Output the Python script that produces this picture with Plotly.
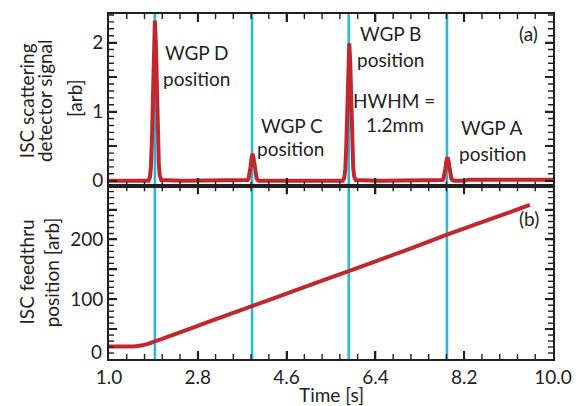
import plotly.graph_objects as go

# ---------------- data ----------------
# panel (a): ISC scattering detector signal [arb]
time_a = [1.00, 1.50, 1.80, 1.83, 1.85, 1.87, 1.89, 1.91, 1.93, 1.95, 1.97, 1.99, 2.01, 2.03, 2.06,
          2.50, 3.00, 3.50, 3.79, 3.81, 3.83, 3.85, 3.87, 3.89, 3.91, 3.93, 3.95, 3.97, 3.99, 4.01, 4.04,
          4.50, 5.00, 5.50, 5.74, 5.77, 5.79, 5.81, 5.83, 5.85, 5.87, 5.89, 5.91, 5.93, 5.95, 5.97, 6.00,
          6.50, 7.00, 7.50, 7.74, 7.76, 7.78, 7.80, 7.82, 7.84, 7.86, 7.88, 7.90, 7.92, 7.94, 7.96, 8.00,
          8.20, 8.30, 9.00, 10.00]
signal_a = [0.00, 0.00, 0.00, 0.05, 0.20, 0.58, 1.25, 1.99, 2.32, 1.99, 1.28, 0.62, 0.23, 0.07, 0.01,
            0.00, 0.00, 0.00, 0.00, 0.01, 0.03, 0.10, 0.21, 0.33, 0.39, 0.33, 0.21, 0.10, 0.04, 0.01, 0.00,
            0.00, 0.00, 0.00, 0.00, 0.04, 0.17, 0.50, 1.07, 1.71, 1.99, 1.71, 1.10, 0.53, 0.19, 0.06, 0.01,
            0.00, 0.00, 0.00, 0.00, 0.01, 0.03, 0.085, 0.18, 0.29, 0.34, 0.29, 0.18, 0.09, 0.03, 0.01, 0.00,
            0.00, 0.015, 0.015, 0.015]

# panel (b): ISC feedthru position [arb]
time_b = [1.00, 1.40, 1.55, 1.65, 1.75, 1.85, 1.93, 2.05, 2.30, 3.00, 3.90, 5.00, 5.86, 7.00, 7.85, 9.00, 9.53]
position_b = [21, 21, 21.5, 22.5, 24.5, 27, 29.5, 33, 40.5, 61.5, 88.5, 121.5, 147, 181.5, 208, 242, 258]

# WGP positions (vertical markers)
wgp_times = [1.93, 3.90, 5.86, 7.85]

# axes and ticks
x_range = [1.0, 10.0]
ya_range = [-0.082, 2.414]
yb_range = [0.0, 288.8]
x_tick0, x_dtick, x_minor, x_nminor = 1.0, 1.8, 0.36, 25
ya_dtick, ya_minor, ya_nminor = 0.5, 0.1, 24
ya_hidden = {"0.5": "", "1.5": ""}
yb_dtick, yb_minor, yb_nminor = 50, 10, 28
yb_hidden = {"0": "", "50": "", "150": "", "250": ""}
yb_zero_label = "0"

# ---------------- style ----------------
RED = "#c1272d"
CYAN = "#27b8dc"
INK = "#231f20"
FONT = "Lato"
FS = 19
SPLIT = 0.5004
MAJ_LEN, MIN_LEN = 8, 5

W, H = 584, 406
L, R, T, B = 109, 28.5, 13, 46.7
PW = W - L - R
PH = H - T - B

# pixels per data unit (for tick lengths)
X_PPU = PW / (x_range[1] - x_range[0])
YA_PPU = PH * (1 - SPLIT) / (ya_range[1] - ya_range[0])
YB_PPU = PH * SPLIT / (yb_range[1] - yb_range[0])


def px_x(px):
    return (px - L) / PW


def px_y(py):
    return (H - B - py) / PH


fig = go.Figure()

for t in wgp_times:
    fig.add_shape(type="line", xref="x", yref="paper", x0=t, x1=t, y0=0, y1=1,
                  line=dict(color=CYAN, width=2.6), layer="below")

fig.add_trace(go.Scatter(x=time_a, y=signal_a, mode="lines", xaxis="x", yaxis="y",
                         line=dict(color=RED, width=4), showlegend=False, hoverinfo="skip"))
fig.add_trace(go.Scatter(x=time_b, y=position_b, mode="lines", xaxis="x2", yaxis="y2",
                         line=dict(color=RED, width=4, shape="spline", smoothing=0.8),
                         showlegend=False, hoverinfo="skip"))


# ---- inward tick marks on all four sides of each frame ----
def frame_ticks(xa, ya, yrng, yppu, ystep, ynum):
    segs = {True: ([], []), False: ([], [])}
    # x ticks (bottom and top)
    for k in range(1, x_nminor):
        v = x_tick0 + k * x_minor
        major = k % 5 == 0
        d = (MAJ_LEN if major else MIN_LEN) / yppu
        xs, ys = segs[major]
        xs += [v, v, None, v, v, None]
        ys += [yrng[0], yrng[0] + d, None, yrng[1], yrng[1] - d, None]
    # y ticks (left and right)
    for k in range(1, ynum + 1):
        v = k * ystep
        major = k % 5 == 0
        d = (MAJ_LEN if major else MIN_LEN) / X_PPU
        xs, ys = segs[major]
        xs += [x_range[0], x_range[0] + d, None, x_range[1], x_range[1] - d, None]
        ys += [v, v, None, v, v, None]
    for major, (xs, ys) in segs.items():
        fig.add_trace(go.Scatter(x=xs, y=ys, mode="lines", xaxis=xa, yaxis=ya,
                                 line=dict(color=INK, width=1.8 if major else 1.4),
                                 showlegend=False, hoverinfo="skip", cliponaxis=False))


frame_ticks("x", "y", ya_range, YA_PPU, ya_minor, ya_nminor)
frame_ticks("x2", "y2", yb_range, YB_PPU, yb_minor, yb_nminor)

axis_common = dict(showline=True, linecolor=INK, linewidth=2, mirror="ticks",
                   ticks="inside", ticklen=8, tickwidth=1.8, tickcolor=INK,
                   showgrid=False, zeroline=False, tickmode="linear", layer="above traces",
                   tickfont=dict(family=FONT, size=FS, color=INK))

fig.update_layout(
    width=W, height=H,
    margin=dict(l=L, r=R, t=T, b=B, pad=0),
    paper_bgcolor="white", plot_bgcolor="rgba(0,0,0,0)",
    font=dict(family=FONT, size=FS, color=INK),
    hovermode=False,
    xaxis=dict(domain=[0, 1], range=x_range, anchor="y", showticklabels=False,
               tick0=x_tick0, dtick=x_dtick, **axis_common),
    yaxis=dict(domain=[SPLIT, 1], range=ya_range, anchor="x",
               tick0=0, dtick=ya_dtick, labelalias=ya_hidden, **axis_common),
    xaxis2=dict(domain=[0, 1], range=x_range, anchor="y2", tickformat=".1f",
                tick0=x_tick0, dtick=x_dtick, **axis_common),
    yaxis2=dict(domain=[0, SPLIT], range=yb_range, anchor="x2",
                tick0=0, dtick=yb_dtick, labelalias=yb_hidden, **axis_common),
)

ann = []


def txt(text, x, y, xref="x", yref="y", xanchor="center", yanchor="middle", angle=0):
    ann.append(dict(text=text, x=x, y=y, xref=xref, yref=yref, showarrow=False,
                    xanchor=xanchor, yanchor=yanchor, textangle=angle,
                    font=dict(family=FONT, size=FS, color=INK)))


# panel (a) labels
txt("WGP D", 2.774, 1.856)
txt("position", 2.774, 1.476)
txt("WGP C", 4.709, 0.798)
txt("position", 4.689, 0.466)
txt("WGP B", 6.705, 2.126)
txt("position", 6.705, 1.750)
txt("HWHM =", 6.785, 1.159)
txt("1.2mm", 6.80, 0.812)
txt("WGP A", 8.76, 0.769)
txt("position", 8.775, 0.394)
txt("(a)", 9.728, 2.125, xanchor="right")
txt("(b)", 9.748, 235.5, xref="x2", yref="y2", xanchor="right")

# lowest y label of panel (b), lifted above the axis corner
txt(yb_zero_label, px_x(104), px_y(352), xref="paper", yref="paper", xanchor="right")

# axis titles
txt("ISC scattering", px_x(26), px_y(100), xref="paper", yref="paper", angle=-90)
txt("detector signal", px_x(44), px_y(100), xref="paper", yref="paper", angle=-90)
txt("[arb]", px_x(74), px_y(98), xref="paper", yref="paper", angle=-90)
txt("ISC feedthru", px_x(26), px_y(272), xref="paper", yref="paper", angle=-90)
txt("position [arb]", px_x(51), px_y(272), xref="paper", yref="paper", angle=-90)
txt("Time [s]", px_x(333), px_y(395), xref="paper", yref="paper")

fig.update_layout(annotations=ann)

fig.write_html("out.html")
